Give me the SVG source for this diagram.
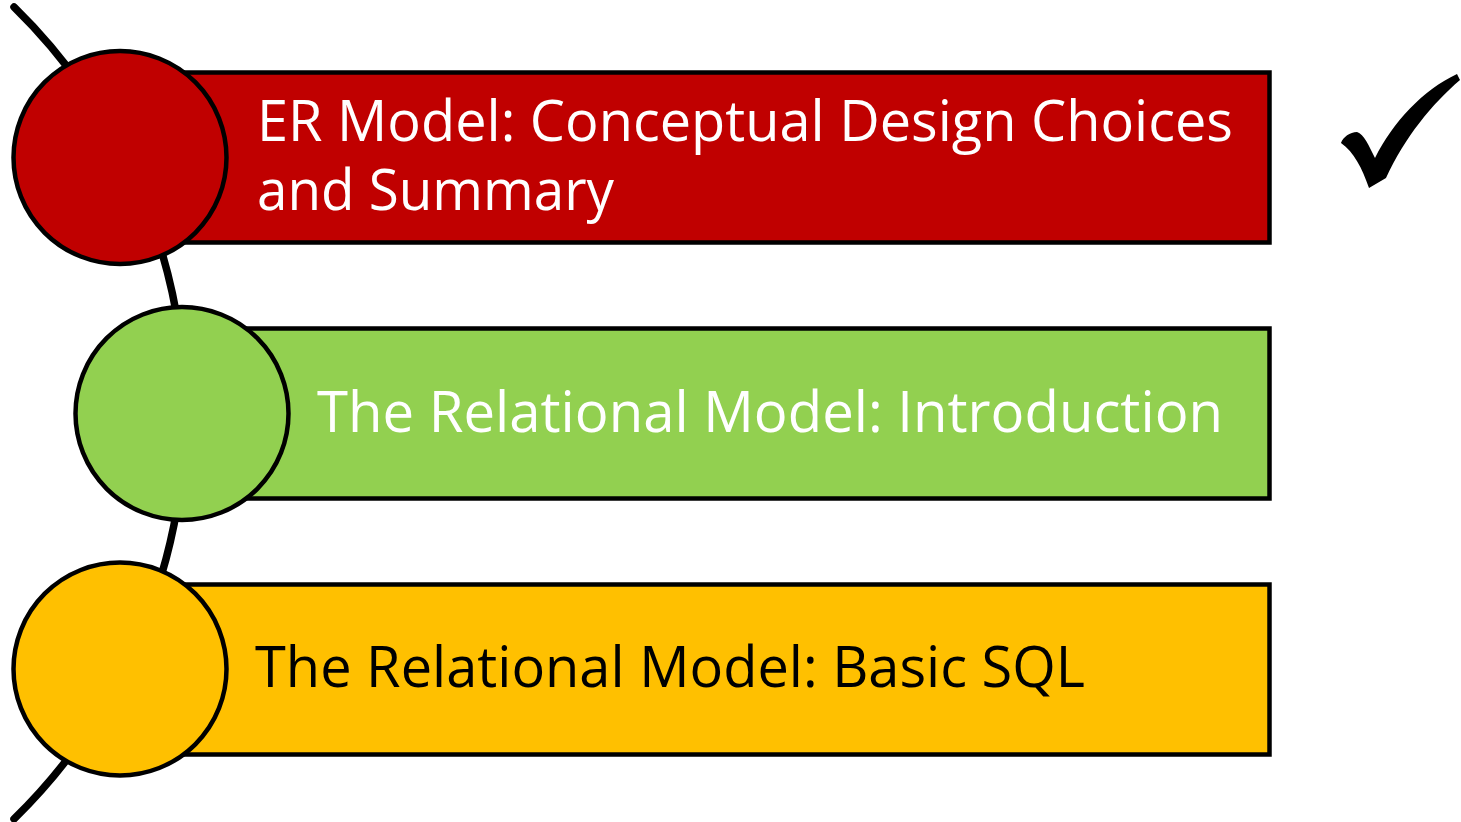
<svg xmlns="http://www.w3.org/2000/svg" width="1461" height="822" viewBox="0 0 1461 822">
<style>
.bar{stroke:#000;stroke-width:4.5}
.dot{stroke:#000;stroke-width:4.5}
.lbl{font-family:"Open Sans","Noto Sans","Liberation Sans",sans-serif;font-size:57px}
.w{fill:#fff}
.k{fill:#000}
</style>
<rect width="1461" height="822" fill="#fff"/>
<g id="connectors">
<path d="M14,7 A567.5,567.5 0 0,1 14,819" fill="none" stroke="#000" stroke-width="7.5" stroke-linecap="round"/>
</g>
<g id="node-er">
<rect class="bar" x="120" y="72.5" width="1149.5" height="170" fill="#C00000"/>
<circle class="dot" cx="120" cy="157.5" r="106.5" fill="#C00000"/>
<text class="lbl w" x="257" y="141" textLength="976" lengthAdjust="spacingAndGlyphs">ER Model: Conceptual Design Choices</text>
<text class="lbl w" x="257" y="210" textLength="357" lengthAdjust="spacingAndGlyphs">and Summary</text>
</g>
<g id="node-intro">
<rect class="bar" x="182" y="328.5" width="1087.5" height="170" fill="#92D050"/>
<circle class="dot" cx="182" cy="413.5" r="106.5" fill="#92D050"/>
<text class="lbl w" x="317" y="432" textLength="906" lengthAdjust="spacingAndGlyphs">The Relational Model: Introduction</text>
</g>
<g id="node-sql">
<rect class="bar" x="120" y="584.5" width="1149.5" height="170" fill="#FFC000"/>
<circle class="dot" cx="120" cy="669" r="106.5" fill="#FFC000"/>
<text class="lbl k" x="255" y="687" textLength="830" lengthAdjust="spacingAndGlyphs">The Relational Model: Basic SQL</text>
</g>
<g id="checkmark">
<path d="M1341,143 C1343,137 1350,132 1357,132 C1364,134 1369,146 1375,158 C1393,122 1423,90 1457,74 L1460,80 C1432,104 1405,137 1386,178 L1369,188 C1362,168 1354,152 1341,143 Z" fill="#000"/>
</g>
</svg>
